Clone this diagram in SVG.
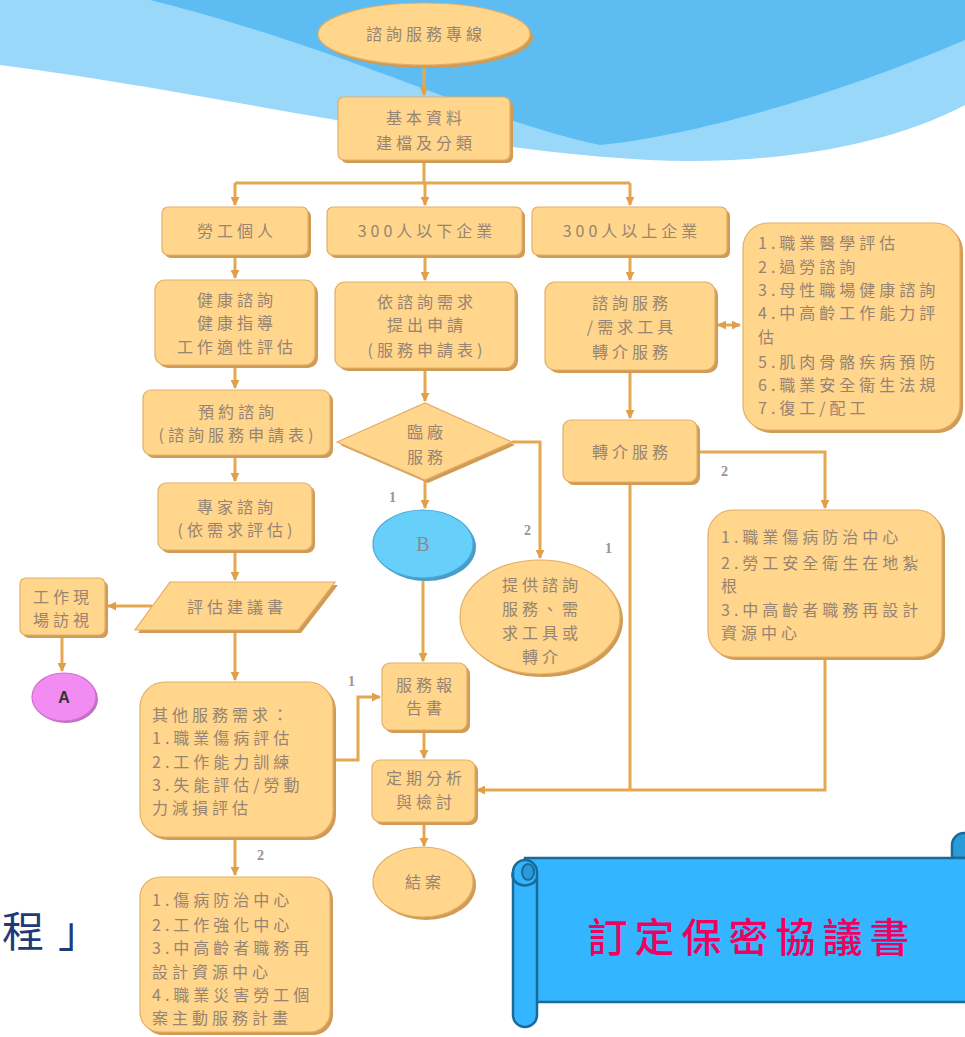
<svg xmlns="http://www.w3.org/2000/svg" width="965" height="1037" viewBox="0 0 965 1037">
<defs>
<style>
.n{fill:#FFD68C;stroke:#E3AE66;stroke-width:1.2}
.sh{fill:#D09B55}
.t{font-family:"Noto Sans CJK TC","Noto Sans CJK SC",sans-serif;font-size:16px;fill:#978472;letter-spacing:4px;text-anchor:middle}
.tl{font-family:"Noto Sans CJK TC","Noto Sans CJK SC",sans-serif;font-size:16px;fill:#978472;letter-spacing:4px}
.c{fill:none;stroke:#E6A84E;stroke-width:3}
.lb{font-family:"Liberation Serif",serif;font-size:14px;fill:#A0928E;font-weight:bold}
</style>
<marker id="ah" viewBox="0 0 10 10" refX="9" refY="5" markerWidth="3" markerHeight="3" orient="auto-start-reverse"><path d="M0,0 L10,5 L0,10 z" fill="#E0A04A"/></marker>
</defs>
<rect width="965" height="1037" fill="#FFFFFF"/>
<g id="background">
<path d="M0,0 H965 V105 C880,150 760,165 650,160 C450,150 200,90 0,65 Z" fill="#9AD8FA"/>
<path d="M150,0 H965 V40 C850,90 700,135 600,145 C480,120 350,50 150,0 Z" fill="#5DBDF3"/>
</g>
<g id="connectors">
<path class="c" d="M424,65 V95" marker-end="url(#ah)"/>
<path class="c" d="M424,160 V183 M235,183 H630"/>
<path class="c" d="M235,183 V205" marker-end="url(#ah)"/>
<path class="c" d="M425,183 V205" marker-end="url(#ah)"/>
<path class="c" d="M630,183 V205" marker-end="url(#ah)"/>
<path class="c" d="M235,255 V278" marker-end="url(#ah)"/>
<path class="c" d="M425,255 V280" marker-end="url(#ah)"/>
<path class="c" d="M630,253 V280" marker-end="url(#ah)"/>
<path class="c" d="M718,325 H740" marker-start="url(#ah)" marker-end="url(#ah)"/>
<path class="c" d="M235,365 V388" marker-end="url(#ah)"/>
<path class="c" d="M235,455 V481" marker-end="url(#ah)"/>
<path class="c" d="M235,550 V580" marker-end="url(#ah)"/>
<path class="c" d="M235,630 V680" marker-end="url(#ah)"/>
<path class="c" d="M235,837 V875" marker-end="url(#ah)"/>
<path class="c" d="M152,606 H108" marker-end="url(#ah)"/>
<path class="c" d="M62,635 V671" marker-end="url(#ah)"/>
<path class="c" d="M425,368 V401" marker-end="url(#ah)"/>
<path class="c" d="M425,480 V508" marker-end="url(#ah)"/>
<path class="c" d="M512,442 H540 V558" marker-end="url(#ah)"/>
<path class="c" d="M423,578 V661" marker-end="url(#ah)"/>
<path class="c" d="M333,760 H358 V697 H380" marker-end="url(#ah)"/>
<path class="c" d="M424,730 V758" marker-end="url(#ah)"/>
<path class="c" d="M424,822 V846" marker-end="url(#ah)"/>
<path class="c" d="M630,370 V418" marker-end="url(#ah)"/>
<path class="c" d="M697,452 H825 V508" marker-end="url(#ah)"/>
<path class="c" d="M630,482 V790"/>
<path class="c" d="M825,657 V790 H477" marker-end="url(#ah)"/>
<text class="lb" x="389" y="502">1</text>
<text class="lb" x="524" y="535">2</text>
<text class="lb" x="348" y="686">1</text>
<text class="lb" x="257" y="860">2</text>
<text class="lb" x="721" y="476">2</text>
<text class="lb" x="605" y="553">1</text>
</g>
<g id="n-hotline">
<ellipse class="sh" cx="427" cy="37" rx="106" ry="31"/>
<ellipse class="n" cx="424" cy="34" rx="106" ry="31"/>
<text class="t" x="426" y="40">諮詢服務專線</text>
</g>
<g id="n-basic">
<rect class="sh" x="341" y="100" width="172" height="63" rx="6"/>
<rect class="n" x="338" y="97" width="172" height="63" rx="6"/>
<text class="t" x="426" y="124" font-size="17">基本資料</text>
<text class="t" x="426" y="149" font-size="17">建檔及分類</text>
</g>
<g id="n-worker">
<rect class="sh" x="165" y="210" width="146" height="48" rx="6"/>
<rect class="n" x="162" y="207" width="146" height="48" rx="6"/>
<text class="t" x="237" y="237">勞工個人</text>
</g>
<g id="n-under300">
<rect class="sh" x="330" y="210" width="195" height="48" rx="6"/>
<rect class="n" x="327" y="207" width="195" height="48" rx="6"/>
<text class="t" x="427" y="237">300人以下企業</text>
</g>
<g id="n-over300">
<rect class="sh" x="535" y="210" width="195" height="48" rx="6"/>
<rect class="n" x="532" y="207" width="195" height="48" rx="6"/>
<text class="t" x="632" y="237">300人以上企業</text>
</g>
<g id="n-health">
<rect class="sh" x="158" y="283" width="160" height="85" rx="10"/>
<rect class="n" x="155" y="280" width="160" height="85" rx="10"/>
<text class="t" x="237" y="306">健康諮詢</text>
<text class="t" x="237" y="329">健康指導</text>
<text class="t" x="237" y="353">工作適性評估</text>
</g>
<g id="n-apply">
<rect class="sh" x="338" y="285" width="180" height="86" rx="10"/>
<rect class="n" x="335" y="282" width="180" height="86" rx="10"/>
<text class="t" x="427" y="308">依諮詢需求</text>
<text class="t" x="427" y="331">提出申請</text>
<text class="t" x="427" y="356">(服務申請表)</text>
</g>
<g id="n-consult">
<rect class="sh" x="548" y="285" width="170" height="88" rx="10"/>
<rect class="n" x="545" y="282" width="170" height="88" rx="10"/>
<text class="t" x="632" y="309">諮詢服務</text>
<text class="t" x="632" y="333">/需求工具</text>
<text class="t" x="632" y="358">轉介服務</text>
</g>
<g id="n-list1">
<rect class="sh" x="746" y="226" width="217" height="207" rx="25"/>
<rect class="n" x="743" y="223" width="217" height="207" rx="25"/>
<text class="tl" x="758" y="249" letter-spacing="5">1.職業醫學評估</text>
<text class="tl" x="758" y="273" letter-spacing="5">2.過勞諮詢</text>
<text class="tl" x="758" y="296" letter-spacing="5">3.母性職場健康諮詢</text>
<text class="tl" x="758" y="319" letter-spacing="5">4.中高齡工作能力評</text>
<text class="tl" x="758" y="343" letter-spacing="5">估</text>
<text class="tl" x="758" y="368" letter-spacing="5">5.肌肉骨骼疾病預防</text>
<text class="tl" x="758" y="391" letter-spacing="5">6.職業安全衛生法規</text>
<text class="tl" x="758" y="414" letter-spacing="5">7.復工/配工</text>
</g>
<g id="n-booking">
<rect class="sh" x="146" y="393" width="187" height="65" rx="8"/>
<rect class="n" x="143" y="390" width="187" height="65" rx="8"/>
<text class="t" x="238" y="418">預約諮詢</text>
<text class="t" x="238" y="441">(諮詢服務申請表)</text>
</g>
<g id="n-expert">
<rect class="sh" x="161" y="486" width="154" height="67" rx="8"/>
<rect class="n" x="158" y="483" width="154" height="67" rx="8"/>
<text class="t" x="237" y="513">專家諮詢</text>
<text class="t" x="237" y="536">(依需求評估)</text>
</g>
<g id="n-report-advice">
<polygon class="sh" points="173,585 338,585 301,633 138,633"/>
<polygon class="n" points="170,582 335,582 298,630 135,630"/>
<text class="t" x="237" y="613">評估建議書</text>
</g>
<g id="n-visit">
<rect class="sh" x="23" y="581" width="85" height="57" rx="6"/>
<rect class="n" x="20" y="578" width="85" height="57" rx="6"/>
<text class="t" x="63" y="603" letter-spacing="3">工作現</text>
<text class="t" x="63" y="626" letter-spacing="3">場訪視</text>
</g>
<g id="n-A">
<ellipse cx="66" cy="699" rx="32" ry="24" fill="#C070C0"/>
<ellipse cx="64" cy="697" rx="32" ry="24" fill="#F28CF2" stroke="#D070D0" stroke-width="1.2"/>
<text x="64" y="703" font-family="Liberation Sans, sans-serif" font-size="16" font-weight="bold" fill="#333333" text-anchor="middle">A</text>
</g>
<g id="n-other">
<rect class="sh" x="143" y="685" width="193" height="155" rx="25"/>
<rect class="n" x="140" y="682" width="193" height="155" rx="25"/>
<text class="tl" x="152" y="721">其他服務需求：</text>
<text class="tl" x="152" y="744">1.職業傷病評估</text>
<text class="tl" x="152" y="768">2.工作能力訓練</text>
<text class="tl" x="152" y="791">3.失能評估/勞動</text>
<text class="tl" x="152" y="814">力減損評估</text>
</g>
<g id="n-centers-left">
<rect class="sh" x="143" y="880" width="190" height="155" rx="20"/>
<rect class="n" x="140" y="877" width="190" height="155" rx="20"/>
<text class="tl" x="152" y="906">1.傷病防治中心</text>
<text class="tl" x="152" y="931">2.工作強化中心</text>
<text class="tl" x="152" y="954">3.中高齡者職務再</text>
<text class="tl" x="152" y="978">設計資源中心</text>
<text class="tl" x="152" y="1001">4.職業災害勞工個</text>
<text class="tl" x="152" y="1024">案主動服務計畫</text>
</g>
<g id="n-visit-factory">
<polygon class="sh" points="340,445 428,406 515,445 428,483"/>
<polygon class="n" points="337,442 425,403 512,442 425,480"/>
<text class="t" x="427" y="438">臨廠</text>
<text class="t" x="427" y="463">服務</text>
</g>
<g id="n-B">
<ellipse cx="426" cy="547" rx="50" ry="34" fill="#4A9CC8"/>
<ellipse cx="423" cy="544" rx="50" ry="34" fill="#66D0FA" stroke="#4AA8D8" stroke-width="1.2"/>
<text x="423" y="551" font-family="Liberation Serif, serif" font-size="20" fill="#8A8A8A" text-anchor="middle">B</text>
</g>
<g id="n-provide">
<ellipse class="sh" cx="543" cy="620" rx="80" ry="57"/>
<ellipse class="n" cx="540" cy="617" rx="80" ry="57"/>
<text class="t" x="542" y="591">提供諮詢</text>
<text class="t" x="542" y="615">服務、需</text>
<text class="t" x="542" y="639">求工具或</text>
<text class="t" x="542" y="663">轉介</text>
</g>
<g id="n-service-report">
<rect class="sh" x="385" y="666" width="85" height="67" rx="8"/>
<rect class="n" x="382" y="663" width="85" height="67" rx="8"/>
<text class="t" x="426" y="691">服務報</text>
<text class="t" x="426" y="714">告書</text>
</g>
<g id="n-review">
<rect class="sh" x="375" y="763" width="103" height="62" rx="8"/>
<rect class="n" x="372" y="760" width="103" height="62" rx="8"/>
<text class="t" x="426" y="784">定期分析</text>
<text class="t" x="426" y="808">與檢討</text>
</g>
<g id="n-close">
<ellipse class="sh" cx="426" cy="885" rx="50" ry="35"/>
<ellipse class="n" cx="423" cy="882" rx="50" ry="35"/>
<text class="t" x="425" y="888">結案</text>
</g>
<g id="n-referral">
<rect class="sh" x="566" y="423" width="134" height="62" rx="8"/>
<rect class="n" x="563" y="420" width="134" height="62" rx="8"/>
<text class="t" x="632" y="458">轉介服務</text>
</g>
<g id="n-centers-right">
<rect class="sh" x="711" y="513" width="234" height="147" rx="25"/>
<rect class="n" x="708" y="510" width="234" height="147" rx="25"/>
<text class="tl" x="721" y="543">1.職業傷病防治中心</text>
<text class="tl" x="721" y="569">2.勞工安全衛生在地紮</text>
<text class="tl" x="721" y="592">根</text>
<text class="tl" x="721" y="616">3.中高齡者職務再設計</text>
<text class="tl" x="721" y="639">資源中心</text>
</g>
<g id="title-fragment">
<text x="2" y="947" font-family="Noto Sans CJK TC, sans-serif" font-size="42" fill="#1F3A78" letter-spacing="14">程」</text>
</g>
<g id="scroll">
<path d="M952,858 V845 A12,12 0 0 1 976,845 V858 Z" fill="#2A9AD8" stroke="#1B6A98" stroke-width="2.5"/>
<rect x="525" y="858" width="445" height="144" fill="#33B5FF" stroke="#1B6A98" stroke-width="2.5"/>
<path d="M513,872 A12,12 0 0 1 537,872 V1015 A12,12 0 0 1 513,1015 Z" fill="#33B5FF" stroke="#1B6A98" stroke-width="2.5"/>
<path d="M513,872 A12,10 0 0 0 537,878" fill="none" stroke="#1B6A98" stroke-width="2.5"/>
<ellipse cx="528" cy="872" rx="6" ry="8" fill="#2A9AD8" stroke="#1B6A98" stroke-width="2"/>
<text x="752" y="952" font-family="Noto Sans CJK TC, sans-serif" font-size="40" font-weight="500" fill="#F0005F" letter-spacing="7" text-anchor="middle">訂定保密協議書</text>
</g>
</svg>
